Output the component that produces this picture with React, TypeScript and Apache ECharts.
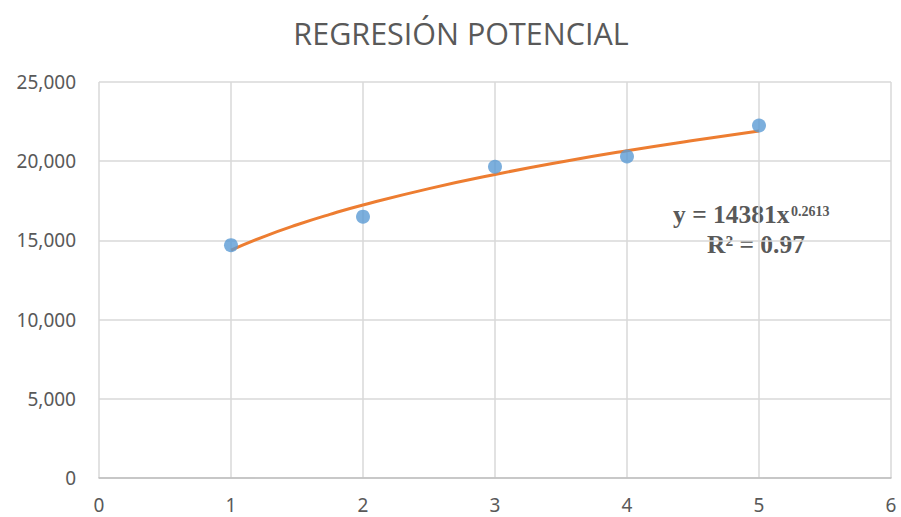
import React, { useEffect, useRef } from "react";
import * as echarts from "echarts";

const titleText = "REGRESIÓN POTENCIAL";
const xValues = [1, 2, 3, 4, 5];
const yValues = [14700, 16500, 19650, 20300, 22250];
const trendX = [1, 1.25, 1.5, 1.75, 2, 2.5, 3, 3.5, 4, 4.5, 5];
const trendY = [14381, 15244, 15988, 16645, 17236, 18271, 19163, 19951, 20659, 21305, 21900];
const equationMain = "y = 14381x";
const equationExp = "0.2613";
const rSquared = "R² = 0.97";

export default function App() {
  const ref = useRef<HTMLDivElement>(null);
  useEffect(() => {
    if (!ref.current) return;
    document.body.style.margin = "0";
    document.body.style.overflow = "hidden";
    const chart = echarts.init(ref.current, null, { renderer: "svg" });
    const labelColor = "#595959";
    const serif = {
      fontFamily: "Liberation Serif",
      fontWeight: "bold",
      fill: labelColor,
    };
    chart.setOption({
      animation: false,
      backgroundColor: "#ffffff",
      title: {
        text: titleText,
        left: 456,
        top: 12,
        textAlign: "center",
        textStyle: {
          fontFamily: "Open Sans",
          fontSize: 30.5,
          fontWeight: "normal",
          color: labelColor,
        },
      },
      grid: { left: 99, right: 10, top: 82, bottom: 39 },
      xAxis: {
        type: "value",
        min: 0,
        max: 6,
        interval: 1,
        axisLine: { show: true, lineStyle: { color: "#bfbfbf", width: 1.5 } },
        axisTick: { show: false },
        splitLine: { show: true, lineStyle: { color: "#d9d9d9", width: 1.5 } },
        axisLabel: {
          color: labelColor,
          fontFamily: "Noto Sans",
          fontSize: 19,
          lineHeight: 14,
          margin: 20,
        },
      },
      yAxis: {
        type: "value",
        min: 0,
        max: 25000,
        interval: 5000,
        axisLine: { show: false },
        axisTick: { show: false },
        splitLine: { show: true, lineStyle: { color: "#d9d9d9", width: 1.5 } },
        axisLabel: {
          color: labelColor,
          fontFamily: "Noto Sans",
          fontSize: 19,
          margin: 23,
          formatter: (v: number) => v.toLocaleString("en-US"),
        },
      },
      series: [
        {
          type: "line",
          data: trendX.map((x, i) => [x, trendY[i]]),
          smooth: true,
          showSymbol: false,
          lineStyle: { color: "#ed7d31", width: 3 },
          z: 2,
        },
        {
          type: "scatter",
          data: xValues.map((x, i) => [x, yValues[i]]),
          symbolSize: 14,
          itemStyle: { color: "#5b9bd5" },
          z: 3,
        },
      ],
      graphic: [
        {
          type: "text",
          left: 673,
          top: 201,
          style: { ...serif, text: equationMain, fontSize: 25.5 },
        },
        {
          type: "text",
          left: 791,
          top: 204,
          style: { ...serif, text: equationExp, fontSize: 14 },
        },
        {
          type: "text",
          left: 707,
          top: 231,
          style: { ...serif, text: rSquared, fontSize: 25.5 },
        },
      ],
    });
    return () => chart.dispose();
  }, []);
  return (
    <div
      ref={ref}
      style={{ position: "fixed", left: 0, top: 0, width: 901, height: 517 }}
    />
  );
}
